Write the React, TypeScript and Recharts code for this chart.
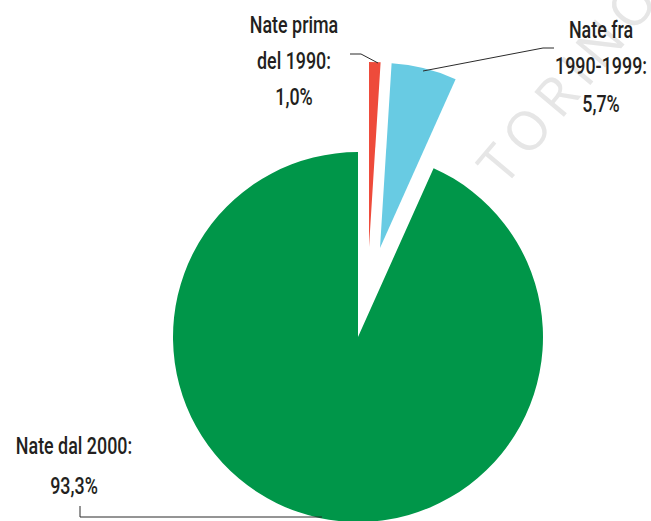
import React from "react";
import { PieChart, Pie, Cell } from "recharts";

// ---- data ----
const categories = ["Nate prima del 1990", "Nate fra 1990-1999", "Nate dal 2000"];
const shares = [1.0, 5.7, 93.3];
const labelLines = [["Nate prima", "del 1990:"], ["Nate fra", "1990-1999:"], ["Nate dal 2000:"]];
const colors = ["#EE4B3B", "#68CBE3", "#009649"];

const data = categories.map((name, i) => ({ name, value: shares[i] }));

// ---- layout (positions / styles) ----
const W = 651;
const H = 521;
const R = 185;
// centre of each pie piece (red & blue pieces are pulled out)
const centres = [
  { cx: 369, cy: 247 },
  { cx: 380, cy: 248 },
  { cx: 358, cy: 337 },
];
const labelPos = [
  { x: 294, baselines: [33, 69, 105] },
  { x: 601, baselines: [38, 74, 112] },
  { x: 74, baselines: [454, 494] },
];
const leaders = [
  "350,54 361,54 378,63",
  "423,71 543,48 554,48",
  "80,506 80,517 322,517",
];
const FONT = "Roboto, 'Liberation Sans', sans-serif";
const SX = 0.73;
const FS = 24.5;
const fmt = (v: number) => `${v.toFixed(1).replace(".", ",")}%`;

const makeLabel = (target: number) => (props: any) => {
  const { index } = props;
  if (index !== target) return null;
  const pos = labelPos[index];
  const lines = [...labelLines[index], fmt(shares[index])];
  return (
    <g key={`lbl-${index}`}>
      <polyline points={leaders[index]} fill="none" stroke="#2b2b2b" strokeWidth={1} />
      {lines.map((t, k) => (
        <text
          key={k}
          x={0}
          y={0}
          transform={`translate(${pos.x},${pos.baselines[k]}) scale(${SX},1)`}
          textAnchor="middle"
          fontFamily={FONT}
          fontWeight={500}
          fontSize={FS}
          fill="#231F20"
        >
          {t}
        </text>
      ))}
    </g>
  );
};

export default function App() {
  return (
    <div style={{ position: "absolute", left: 0, top: 0, width: W, height: H, background: "#fff" }}>
      <svg width={W} height={H} style={{ position: "absolute", left: 0, top: 0 }}>
        <text
          x={0}
          y={0}
          transform="translate(504,188) rotate(-50)"
          fontFamily="'Open Sans', sans-serif"
          fontWeight={400}
          fontSize={54}
          letterSpacing={8}
          fill="#e6e6e6"
        >
          TORINO
        </text>
      </svg>
      <div style={{ position: "absolute", left: 0, top: 0 }}>
        <PieChart width={W} height={H} margin={{ top: 0, right: 0, bottom: 0, left: 0 }}>
          {[2, 0, 1].map((piece) => (
            <Pie
              key={piece}
              data={data}
              dataKey="value"
              nameKey="name"
              cx={centres[piece].cx}
              cy={centres[piece].cy}
              outerRadius={R}
              innerRadius={0}
              startAngle={90}
              endAngle={-270}
              stroke="none"
              isAnimationActive={false}
              labelLine={false}
              label={makeLabel(piece)}
            >
              {data.map((d, i) => (
                <Cell key={d.name} fill={i === piece ? colors[i] : "transparent"} stroke="none" />
              ))}
            </Pie>
          ))}
        </PieChart>
      </div>
    </div>
  );
}
